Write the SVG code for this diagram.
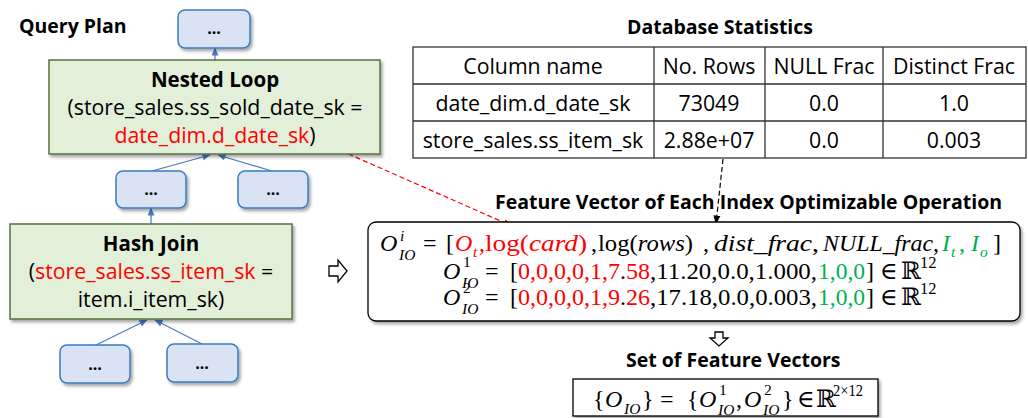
<svg xmlns="http://www.w3.org/2000/svg" width="1028" height="418" viewBox="0 0 1028 418">
<defs>
<style>
.t{font-family:"Open Sans","Liberation Sans",sans-serif;font-size:21.3px;fill:#000}
.b{font-family:"Open Sans","Liberation Sans",sans-serif;font-size:19.5px;font-weight:700;fill:#000}
.dots{font-family:"Open Sans","Liberation Sans",sans-serif;font-size:16px;font-weight:700;text-anchor:middle;fill:#000}
.c{text-anchor:middle}
.m{font-family:"Liberation Serif","DejaVu Serif",serif;font-size:24px;fill:#000}
.mi{font-style:italic}
.s{font-size:15.5px}
.red{fill:#ff0000}
.grn{fill:#00b050}
.blk{fill:#000}
.leaf{fill:#dae3f3;stroke:#3a7cc0;stroke-width:1.5}
.op{fill:#e2efd9;stroke:#56753c;stroke-width:1.5}
.edge{stroke:#4a78c8;stroke-width:1.2;fill:none;marker-end:url(#ab)}
.cell{fill:none;stroke:#333;stroke-width:1.3}
.hollow{fill:#fff;stroke:#000;stroke-width:1.3;stroke-linejoin:miter}
.panel{fill:#fff;stroke:#000;stroke-width:1.3}
</style>
<filter id="sh" x="-10%" y="-10%" width="130%" height="140%">
<feDropShadow dx="2" dy="2.5" stdDeviation="1.5" flood-color="#000" flood-opacity="0.35"/>
</filter>
<marker id="ab" markerWidth="8" markerHeight="8" refX="7.5" refY="4" orient="auto" markerUnits="userSpaceOnUse">
<path d="M0,0.5 L8,4 L0,7.5 z" fill="#4a78c8"/>
</marker>
<marker id="ar" markerWidth="9" markerHeight="8" refX="8.5" refY="4" orient="auto" markerUnits="userSpaceOnUse">
<path d="M0,0.5 L9,4 L0,7.5 z" fill="#ff0000"/>
</marker>
<marker id="ak" markerWidth="9" markerHeight="8" refX="8.5" refY="4" orient="auto" markerUnits="userSpaceOnUse">
<path d="M0,0.5 L9,4 L0,7.5 z" fill="#000"/>
</marker>
</defs>

<rect width="1028" height="418" fill="#fff"/>

<text class="b" x="19" y="33">Query Plan</text>

<!-- plan edges and cross-links -->
<g id="edges">
<path class="edge" d="M215,60 L215,48"/>
<path class="edge" d="M152,171 L210,155"/>
<path class="edge" d="M272,171 L218,155"/>
<path class="edge" d="M151,224 L151,208"/>
<path class="edge" d="M96,345 L147,320"/>
<path class="edge" d="M202,344 L155,320"/>
<path d="M319,141 L512,226" stroke="#ff0000" stroke-width="1.2" stroke-dasharray="5,3" fill="none" marker-end="url(#ar)"/>
<path d="M723,159 L716,224" stroke="#000" stroke-width="1.2" stroke-dasharray="5,3" fill="none" marker-end="url(#ak)"/>
</g>

<!-- plan nodes -->
<g id="root">
<rect class="leaf" x="178" y="10" width="72" height="38" rx="7" filter="url(#sh)"/>
<text class="dots" x="214" y="34">...</text>
</g>

<g id="nested-loop">
<rect class="op" x="49" y="60" width="331" height="94" filter="url(#sh)"/>
<text class="b c" x="215" y="87" style="font-size:20.5px">Nested Loop</text>
<text class="t c" x="215" y="115">(store_sales.ss_sold_date_sk =</text>
<text class="t c" x="215" y="143"><tspan class="red">date_dim.d_date_sk</tspan>)</text>
</g>

<g id="nl-child-left">
<rect class="leaf" x="116" y="171" width="70" height="37" rx="7" filter="url(#sh)"/>
<text class="dots" x="151" y="195">...</text>
</g>

<g id="nl-child-right">
<rect class="leaf" x="238" y="171" width="70" height="37" rx="7" filter="url(#sh)"/>
<text class="dots" x="273" y="195">...</text>
</g>

<g id="hash-join">
<rect class="op" x="10" y="224" width="282" height="95" filter="url(#sh)"/>
<text class="b c" x="151" y="251" style="font-size:20.5px">Hash Join</text>
<text class="t c" x="151" y="279">(<tspan class="red">store_sales.ss_item_sk</tspan> =</text>
<text class="t c" x="151" y="307">item.i_item_sk)</text>
</g>

<g id="hj-child-left">
<rect class="leaf" x="60" y="345" width="70" height="38" rx="7" filter="url(#sh)"/>
<text class="dots" x="95" y="370">...</text>
</g>

<g id="hj-child-right">
<rect class="leaf" x="167" y="344" width="71" height="38" rx="7" filter="url(#sh)"/>
<text class="dots" x="202" y="369">...</text>
</g>

<!-- hollow arrows -->
<polygon class="hollow" points="329,266 338,266 338,260 347,271 338,282 338,276 329,276"/>
<polygon class="hollow" points="715,332 723,332 723,338 728,338 719,346 710,338 715,338"/>

<!-- statistics table -->
<g id="stats">
<text class="b c" x="720" y="34">Database Statistics</text>
<rect class="cell" x="413" y="47" width="613" height="111"/>
<path class="cell" d="M413,84 H1026 M413,121 H1026 M654,47 V158 M765,47 V158 M883,47 V158"/>
<text class="t c" x="533" y="74">Column name</text>
<text class="t c" x="709" y="74">No. Rows</text>
<text class="t c" x="824" y="74">NULL Frac</text>
<text class="t c" x="954" y="74">Distinct Frac</text>
<text class="t c" x="533" y="111">date_dim.d_date_sk</text>
<text class="t c" x="709" y="111">73049</text>
<text class="t c" x="824" y="111">0.0</text>
<text class="t c" x="954" y="111">1.0</text>
<text class="t c" x="533" y="148">store_sales.ss_item_sk</text>
<text class="t c" x="709" y="148">2.88e+07</text>
<text class="t c" x="824" y="148">0.0</text>
<text class="t c" x="954" y="148">0.003</text>
</g>

<!-- feature vectors -->
<g id="feature-vectors">
<text class="b" x="495" y="209">Feature Vector of Each Index Optimizable Operation</text>
<rect class="panel" x="368" y="222" width="652" height="99" rx="8" filter="url(#sh)"/>

<!-- definition row -->
<text class="m"><tspan class="mi" x="380" y="251">O</tspan><tspan class="mi s" x="400" y="241">i</tspan><tspan class="mi s" x="399" y="260">IO</tspan><tspan x="423" y="251">=</tspan><tspan x="446" y="251">[</tspan></text>
<text class="m red"><tspan class="mi" x="455" y="251">O</tspan><tspan class="mi s" x="473" y="257">t</tspan><tspan x="479" y="251">,</tspan></text>
<text class="m red" x="485" y="251" textLength="102" lengthAdjust="spacingAndGlyphs">log(<tspan class="mi">card</tspan>)</text>
<text class="m" x="591" y="251">,</text>
<text class="m" x="598" y="251" textLength="95" lengthAdjust="spacingAndGlyphs">log(<tspan class="mi">rows</tspan>)</text>
<text class="m" x="703" y="251">,</text>
<text class="m" x="714" y="251" textLength="105" lengthAdjust="spacingAndGlyphs"><tspan class="mi">dist_frac</tspan>,</text>
<text class="m" x="823" y="251" textLength="116" lengthAdjust="spacingAndGlyphs"><tspan class="mi">NULL_frac</tspan>,</text>
<text class="m grn"><tspan class="mi" x="942" y="251">I</tspan><tspan class="mi s" x="951" y="257">t</tspan><tspan x="959" y="251">,</tspan><tspan class="mi" x="971" y="251">I</tspan><tspan class="mi s" x="980" y="257">o</tspan></text>
<text class="m" x="993" y="251">]</text>

<!-- first operation -->
<text class="m"><tspan class="mi" x="443" y="279">O</tspan><tspan class="s" x="463" y="267">1</tspan><tspan class="mi s" x="462" y="288">IO</tspan><tspan x="485" y="279">=</tspan><tspan x="510" y="279">[</tspan></text>
<text class="m red" x="518" y="279" textLength="132" lengthAdjust="spacingAndGlyphs">0,0,0,0,1,7<tspan class="blk">.</tspan>58</text>
<text class="m" x="650" y="279" textLength="167" lengthAdjust="spacingAndGlyphs">,11.20,0.0,1.000,</text>
<text class="m grn" x="818" y="279" textLength="47" lengthAdjust="spacingAndGlyphs">1,0,0</text>
<text class="m"><tspan x="866" y="279">]</tspan><tspan x="880" y="279">∈</tspan><tspan x="901" y="279">ℝ</tspan><tspan x="920" y="268" style="font-size:16.5px">12</tspan></text>

<!-- second operation -->
<text class="m"><tspan class="mi" x="443" y="305">O</tspan><tspan class="s" x="463" y="293">2</tspan><tspan class="mi s" x="462" y="314">IO</tspan><tspan x="485" y="305">=</tspan><tspan x="510" y="305">[</tspan></text>
<text class="m red" x="518" y="305" textLength="132" lengthAdjust="spacingAndGlyphs">0,0,0,0,1,9<tspan class="blk">.</tspan>26</text>
<text class="m" x="650" y="305" textLength="167" lengthAdjust="spacingAndGlyphs">,17.18,0.0,0.003,</text>
<text class="m grn" x="818" y="305" textLength="47" lengthAdjust="spacingAndGlyphs">1,0,0</text>
<text class="m"><tspan x="866" y="305">]</tspan><tspan x="880" y="305">∈</tspan><tspan x="901" y="305">ℝ</tspan><tspan x="920" y="294" style="font-size:16.5px">12</tspan></text>
</g>

<!-- feature set -->
<g id="feature-set">
<text class="b" x="626" y="367">Set of Feature Vectors</text>
<rect class="panel" x="573" y="379" width="305" height="37" filter="url(#sh)"/>
<text class="m"><tspan x="593" y="407">{</tspan><tspan class="mi" x="605" y="407">O</tspan><tspan class="mi s" x="624" y="414">IO</tspan><tspan x="642" y="407">}</tspan><tspan x="660" y="407">=</tspan><tspan x="687" y="407">{</tspan><tspan class="mi" x="699" y="407">O</tspan><tspan class="s" x="719" y="395">1</tspan><tspan class="mi s" x="718" y="415">IO</tspan><tspan x="736" y="407">,</tspan><tspan class="mi" x="744" y="407">O</tspan><tspan class="s" x="764" y="395">2</tspan><tspan class="mi s" x="763" y="415">IO</tspan><tspan x="782" y="407">}</tspan><tspan x="797" y="407">∈</tspan><tspan x="816" y="407">ℝ</tspan></text>
<text class="m" x="833" y="396" style="font-size:16.5px" textLength="30" lengthAdjust="spacingAndGlyphs">2×12</text>
</g>
</svg>
